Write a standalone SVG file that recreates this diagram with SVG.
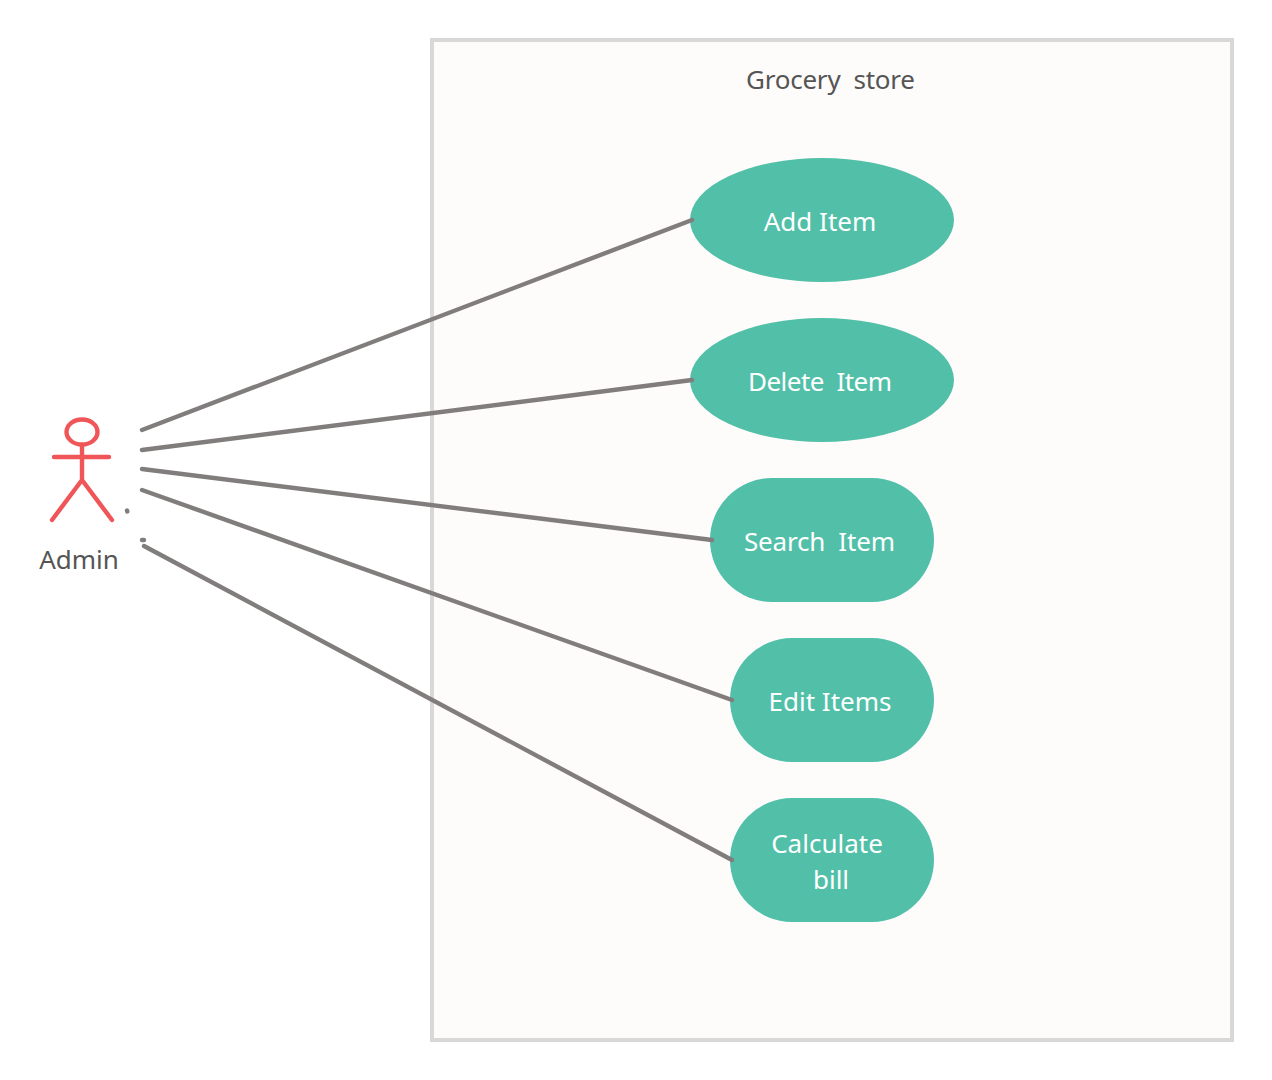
<svg xmlns="http://www.w3.org/2000/svg" width="1272" height="1080" viewBox="0 0 1272 1080">
<style>
text{font-family:"Noto Sans","Open Sans","DejaVu Sans",sans-serif;font-size:26px;text-anchor:middle;white-space:pre}
.d{fill:#555}
.w{fill:#fff}
.u{fill:#52bfa8}
.c{fill:none;stroke:#807d7c;stroke-width:4.400;stroke-linecap:round}
.a{fill:none;stroke:#f05558;stroke-width:4.400;stroke-linecap:round;stroke-linejoin:round}
</style>
<rect width="1272" height="1080" fill="#fff"/>
<g id="boundary"><rect x="432" y="40" width="800" height="1000" fill="#fdfcfa" stroke="#d8d8d6" stroke-width="4"/><text class="d" x="830.500" y="89" textLength="169">Grocery  store</text></g>
<g id="actor"><ellipse class="a" cx="82" cy="432" rx="15.500" ry="12.500"/><path class="a" d="M82 445V480M54 457H109M52 520L82 480L112 520"/><text class="d" x="79" y="569">Admin</text></g>
<g id="add-item"><ellipse class="u" cx="822" cy="220" rx="132" ry="62"/><text class="w" x="820" y="231">Add Item</text></g>
<g id="delete-item"><ellipse class="u" cx="822" cy="380" rx="132" ry="62"/><text class="w" x="820" y="391" textLength="144">Delete  Item</text></g>
<g id="search-item"><rect class="u" x="710" y="478" width="224" height="124" rx="62"/><text class="w" x="819.500" y="551" textLength="151">Search  Item</text></g>
<g id="edit-items"><rect class="u" x="730" y="638" width="204" height="124" rx="62"/><text class="w" x="830" y="711">Edit Items</text></g>
<g id="calculate-bill"><rect class="u" x="730" y="798" width="204" height="124" rx="62"/><text class="w" x="827" y="853">Calculate</text><text class="w" x="831" y="889">bill</text></g>
<g id="connectors">
<path class="c" d="M142 430L692 220M142 450L692 380M142 469L712 540M142 490L732 700M144 546L732 860"/>
<path class="c" d="M127 510.500L127.300 511.500M142 540L144 540"/>
</g>
</svg>
